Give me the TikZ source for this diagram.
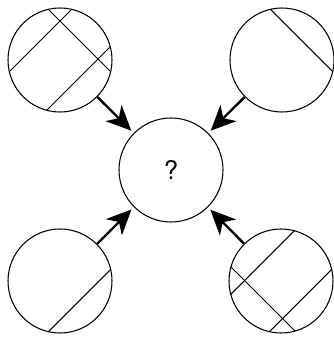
\documentclass[tikz,border=0pt]{standalone}
\usepackage{fontspec}
\setsansfont{TeX Gyre Heros}
\usetikzlibrary{arrows.meta}
\begin{document}
\begin{tikzpicture}[x=0.03cm,y=-0.03cm,
  disk/.style={circle,draw,line width=0.9pt,minimum size=3.12cm,inner sep=0pt},
  chord/.style={line width=0.9pt},
  feed/.style={line width=2pt,-{Stealth[length=0.75cm,width=0.68cm,inset=0.22cm]},shorten >=0.1cm}]
\useasboundingbox (0,0) rectangle (333,338);
\node[disk] (tl) at (60,60) {};
\node[disk] (tr) at (282,60) {};
\node[disk] (bl) at (60,281) {};
\node[disk] (br) at (281,281) {};
\node[disk,font=\sffamily\fontsize{22}{24}\selectfont] (c) at (171,170) {?};
% chords top-left
\begin{scope}
\clip (tl.center) circle (1.56cm);
\draw[chord] (0,-39) -- (130,91);
\draw[chord] (0,81) -- (130,-49);
\draw[chord] (0,157) -- (130,27);
\end{scope}
% chord top-right
\begin{scope}
\clip (tr.center) circle (1.56cm);
\draw[chord] (220,-41) -- (350,89);
\end{scope}
% chord bottom-left
\begin{scope}
\clip (bl.center) circle (1.56cm);
\draw[chord] (0,380) -- (130,250);
\end{scope}
% chords bottom-right
\begin{scope}
\clip (br.center) circle (1.56cm);
\draw[chord] (220,305) -- (350,175);
\draw[chord] (220,381) -- (350,251);
\draw[chord] (220,256) -- (350,386);
\end{scope}
% arrows
\draw[feed] (tl) -- (c);
\draw[feed] (tr) -- (c);
\draw[feed] (bl) -- (c);
\draw[feed] (br) -- (c);
\end{tikzpicture}
\end{document}
